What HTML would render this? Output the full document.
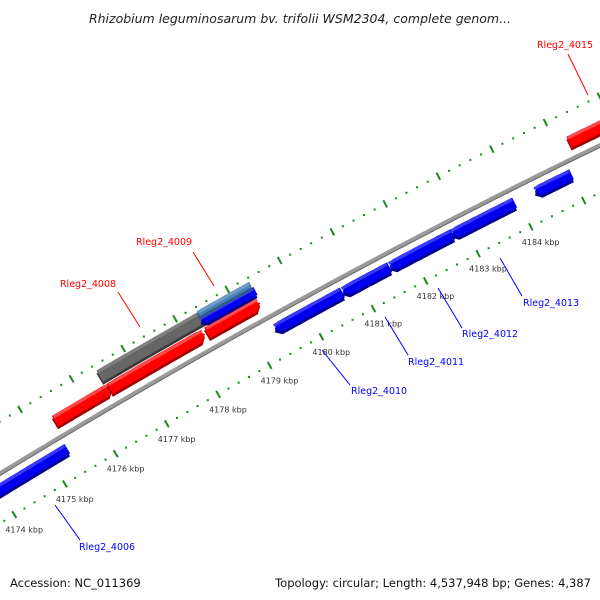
<!DOCTYPE html>
<html><head><meta charset="utf-8"><style>
html,body{margin:0;padding:0;background:#fff;}
svg{display:block;font-family:"DejaVu Sans","Liberation Sans",sans-serif;}
</style></head><body>
<svg id="map" width="600" height="600" viewBox="0 0 600 600">
<defs>
<clipPath id="clip"><rect x="0" y="30" width="600" height="535"/></clipPath>
</defs>
<text x="300" y="23" text-anchor="middle" font-size="12.5" font-style="italic" fill="#222">Rhizobium leguminosarum bv. trifolii WSM2304, complete genom...</text>
<g id="plot" clip-path="url(#clip)"></g>
<g id="labels"></g>
<text x="10" y="587" font-size="11.5" fill="#111">Accession: NC_011369</text>
<text x="591" y="587" text-anchor="end" font-size="11.5" fill="#111">Topology: circular; Length: 4,537,948 bp; Genes: 4,387</text>
</svg>
<script>
// ---- data ----
const tickStart = 4173;
const tickEnd = 4187;
const labeledKbp = [4174,4175,4176,4177,4178,4179,4180,4181,4182,4183,4184];
const geneStarts = [4173.8, 4175.40, 4176.47, 4178.35, 4176.43, 4178.35, 4178.38, 4179.37, 4180.67, 4181.57, 4182.75, 4184.32, 4185.21];
const geneEnds   = [4175.34, 4176.51, 4178.31, 4179.37, 4178.47, 4179.40, 4179.38, 4180.67, 4181.57, 4182.77, 4183.94, 4185.01, 4186.2];
const geneStrand = [-1, 1, 1, 1, 0, -1, 0, -1, -1, -1, -1, -1, 1];
const geneKind   = ['blue','red','red','red','gray','blue','steel','blue','blue','blue','blue','blue','red'];
const geneLane   = ['lower','upper','upper','upper','outer','outerB','outerT','lower','lower','lower','lower','lower','upper'];
const labelNames = ['Rleg2_4006','Rleg2_4008','Rleg2_4009','Rleg2_4010','Rleg2_4011','Rleg2_4012','Rleg2_4013','Rleg2_4015'];
const labelColors = ['blue','red','red','blue','blue','blue','blue','red'];

// ---- geometry (layout, not data) ----
const NS='http://www.w3.org/2000/svg';
const plot=document.getElementById('plot');
const labelsG=document.getElementById('labels');
function curveY(x){return 473-0.61*x+0.000105*x*x;}
const samples=[];
(function(){let s=0,px=-150,py=curveY(-150);const tmp=[];
 for(let x=-150;x<=750;x+=1){const y=curveY(x);s+=Math.hypot(x-px,y-py);tmp.push([x,y,s]);px=x;py=y;}
 const s0=tmp.find(p=>p[0]===0)[2];tmp.forEach(p=>samples.push([p[0],p[1],p[2]-s0]));})();
function at(s,d){
 let i=0;while(i<samples.length-2&&samples[i+1][2]<s)i++;
 const a=samples[i],b=samples[i+1];const f=(s-a[2])/(b[2]-a[2]);
 const x=a[0]+(b[0]-a[0])*f,y=a[1]+(b[1]-a[1])*f;
 const dx=b[0]-a[0],dy=b[1]-a[1],L=Math.hypot(dx,dy);const tx=dx/L,ty=dy/L;
 return [x+(-ty)*d,y+tx*d];
}
const PXK=59.5;
function sOf(k){return 50+(k-4175)*PXK;}
const laneOff={lower:[14,11],upper:[-16,12],outer:[-32,13],outerB:[-29,9],outerT:[-37,6]};
const colors={blue:['#0000ee','#3a3aff','#00008a'],red:['#ff0000','#ff4a4a','#a00000'],gray:['#666666','#808080','#3a3a3a'],steel:['#4a80b4','#6f9cc8','#2f5a86']};
function mk(tag,attrs){const e=document.createElementNS(NS,tag);for(const k in attrs)e.setAttribute(k,attrs[k]);return e;}
function ptsStr(p){return p.map(q=>q[0].toFixed(1)+','+q[1].toFixed(1)).join(' ');}

// backbone
(function(){const p=[];for(let s=-120;s<=760;s+=4)p.push(at(s,0));
 const sh=mk('polyline',{points:ptsStr(p.map(q=>[q[0],q[1]+1.5])),fill:'none',stroke:'#6a6a6a','stroke-width':3});
 plot.appendChild(sh);
 const bb=mk('polyline',{points:ptsStr(p),fill:'none',stroke:'#9a9a9a','stroke-width':3.5});
 plot.appendChild(bb);})();

// ticks
[['upper',-44],['lower',43]].forEach(([nm,d])=>{
 for(let k=tickStart*5;k<=tickEnd*5;k++){const kb=k/5;const s=sOf(kb);
  if(k%5===0){const a=at(s,d-4),b=at(s,d+4);
   const l=mk('line',{x1:a[0],y1:a[1],x2:b[0],y2:b[1],stroke:'#1a8a1a','stroke-width':2});
   plot.appendChild(l);}
  else{const c=at(s,d);const r=mk('rect',{x:c[0]-1,y:c[1]-1,width:2,height:2,fill:'#1a8a1a'});
   plot.appendChild(r);}
 }});
labeledKbp.forEach(k=>{const c=at(sOf(k),43);
 const t=mk('text',{x:c[0]-9,y:c[1]+18,'font-size':8,fill:'#333'});t.textContent=k+' kbp';
 labelsG.appendChild(t);});

// genes
function genePoly(s1,s2,d,h,strand){
 const top=[],bot=[];const head=Math.min(6,(s2-s1)/3);
 const a1=strand===-1?s1+head:s1,a2=strand===1?s2-head:s2;
 for(let s=a1;s<=a2;s+=3){top.push(at(s,d-h/2));bot.push(at(s,d+h/2));}
 top.push(at(a2,d-h/2));bot.push(at(a2,d+h/2));
 const p=[];if(strand===-1)p.push(at(s1,d));
 p.push(...top);if(strand===1)p.push(at(s2,d));
 p.push(...bot.reverse());return p;}
geneStarts.forEach((k1,i)=>{
 const k2=geneEnds[i];const [d,h]=laneOff[geneLane[i]];const c=colors[geneKind[i]];
 const g=mk('g',{});
 const p=genePoly(sOf(k1),sOf(k2),d,h,geneStrand[i]);
 g.appendChild(mk('polygon',{points:ptsStr(p.map(q=>[q[0],q[1]+3])),fill:c[2]}));
 g.appendChild(mk('polygon',{points:ptsStr(p),fill:c[0]}));
 const pt=genePoly(sOf(k1)+1,sOf(k2)-1,d-h/2+1.8,3,0);
 g.appendChild(mk('polygon',{points:ptsStr(pt),fill:c[1]}));
 plot.appendChild(g);});

// gene labels (positions are layout)
const labelPos=[[79,550,'start',55,505,80,540],[88,287,'middle',118,292,140,327],[164,245,'middle',193,252,214,286],[351,394,'start',322,350,350,385],[408,365,'start',385,317,408,355],[462,337,'start',438,288,462,328],[523,306,'start',500,258,522,296],[565,48,'middle',568,54,588,95]];
labelNames.forEach((n,i)=>{const L=labelPos[i];const col=labelColors[i]==='red'?'#ff0000':'#0000ff';
 const ln=mk('line',{x1:L[3],y1:L[4],x2:L[5],y2:L[6],stroke:col,'stroke-width':1});
 labelsG.appendChild(ln);
 const t=mk('text',{x:L[0],y:L[1],'text-anchor':L[2],'font-size':9.5,fill:col});t.textContent=n;
 labelsG.appendChild(t);});
</script>
</body></html>
